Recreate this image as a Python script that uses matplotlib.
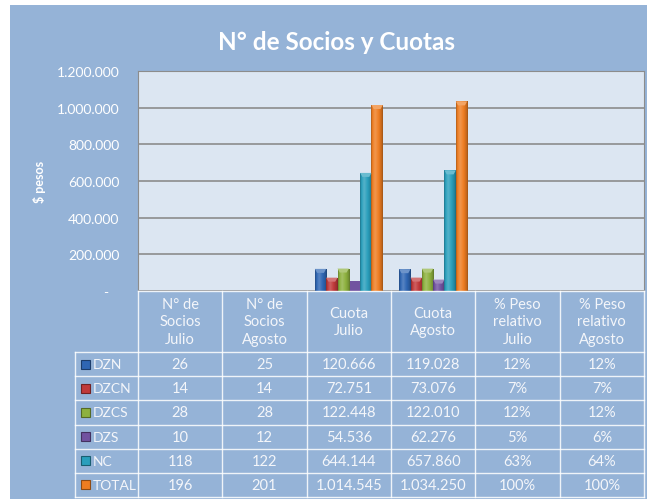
import numpy as np
import matplotlib
matplotlib.use('Agg')
import matplotlib.pyplot as plt
from matplotlib.patches import Rectangle, Polygon
from matplotlib.colors import to_rgb
from matplotlib.ticker import FuncFormatter

plt.rcParams['font.family'] = ['Lato', 'DejaVu Sans']

# datos
categorias = ['N° de\nSocios\nJulio', 'N° de\nSocios\nAgosto', 'Cuota\nJulio',
              'Cuota\nAgosto', '% Peso\nrelativo\nJulio', '% Peso\nrelativo\nAgosto']
series = ['DZN', 'DZCN', 'DZCS', 'DZS', 'NC', 'TOTAL']
dzn = [26, 25, 120666, 119028, 0.12, 0.12]
dzcn = [14, 14, 72751, 73076, 0.07, 0.07]
dzcs = [28, 28, 122448, 122010, 0.12, 0.12]
dzs = [10, 12, 54536, 62276, 0.05, 0.06]
nc = [118, 122, 644144, 657860, 0.63, 0.64]
total = [196, 201, 1014545, 1034250, 1.00, 1.00]
valores = [dzn, dzcn, dzcs, dzs, nc, total]
cores = ['#2f66b3', '#c0393a', '#8db13e', '#7152a0', '#2a9fbc', '#ee7d22']

W, H = 647, 502
fig = plt.figure(figsize=(W / 100, H / 100), dpi=100)

# fondo del grafico
fundo = fig.add_axes([0, 0, 1, 1], zorder=-1)
fundo.set_xlim(0, W)
fundo.set_ylim(H, 0)
fundo.axis('off')
fundo.add_patch(Rectangle((10, 6), W - 10, 494, color='#95b3d7', lw=0))


def tono(c, k):
    c = np.array(to_rgb(c))
    if k >= 1:
        return c + (1 - c) * (k - 1)
    return c * k


# area de trazado
ax = fig.add_axes([138 / W, 1 - 292 / H, (644 - 138) / W, (292 - 72) / H], zorder=1)
ax.set_facecolor('#dce6f2')
n = len(series)
larg = 0.806 / n
x = np.arange(len(categorias))
px = 1.2e6 / 220
perfil_t = np.linspace(0, 1, 64)
perfil_k = np.interp(perfil_t, [0, 0.12, 0.35, 0.65, 0.9, 1], [0.72, 1.0, 1.2, 1.0, 0.82, 0.66])

for j, (nome, vals, cor) in enumerate(zip(series, valores, cores)):
    xs = x + (j - (n - 1) / 2) * larg
    barras = ax.bar(xs, vals, larg, color=cor, zorder=2, linewidth=0)
    for b in barras:
        h = b.get_height()
        if h < 10 * px:
            continue
        x0 = b.get_x()
        grad = np.array([[tono(cor, k) for k in perfil_k]])
        grad = np.clip(grad, 0, 1)
        im = ax.imshow(grad, extent=[x0, x0 + larg, 0, h], aspect='auto',
                       zorder=3, interpolation='bilinear')
        im.set_clip_path(b)
        d = 4 * px
        ax.add_patch(Polygon([(x0, h), (x0 + larg, h), (x0 + larg * 0.8, h - d),
                              (x0 + larg * 0.2, h - d)],
                             facecolor=tono(cor, 1.3), lw=0, zorder=4))

ax.set_xlim(-0.5, 5.5)
ax.set_ylim(0, 1.2e6)
ax.set_xticks([])
ax.set_yticks(np.arange(0, 1.2e6 + 1, 2e5))
ax.yaxis.set_major_formatter(FuncFormatter(
    lambda v, p: '-   ' if v == 0 else f'{int(v):,}'.replace(',', '.')))
ax.tick_params(axis='y', length=0, pad=13.5, colors='white', labelsize=10)
ax.yaxis.grid(True, color='#8c8c8c', lw=1.2)
ax.set_axisbelow(True)
for lado in ['left', 'top', 'right']:
    ax.spines[lado].set_color('#8c8c8c')
ax.spines['bottom'].set_visible(False)

# tabla de datos y textos
tab = fig.add_axes([0, 0, 1, 1], zorder=2)
tab.set_xlim(0, W)
tab.set_ylim(H, 0)
tab.axis('off')

tab.text(337, 50, 'N° de Socios y Cuotas', ha='center', va='baseline',
         fontsize=17.5, fontweight='bold', color='white')
tab.text(40, 182, '$ pesos', rotation=90, ha='center', va='center',
         fontsize=9, fontweight='bold', color='white')

col_x = np.linspace(138, 644, 7)
fil_y = np.linspace(353, 498, 7)
lin = dict(color='white', lw=1.0, alpha=0.85)
tab.plot([138, 644], [292, 292], **lin)
for yy in fil_y:
    tab.plot([75, 644], [yy, yy], **lin)
tab.plot([75, 75], [353, 498], **lin)
for xx in col_x:
    tab.plot([xx, xx], [292, 498], **lin)

cor_txt = '#f4f6fa'
for i, cat in enumerate(categorias):
    xc = (col_x[i] + col_x[i + 1]) / 2
    tab.text(xc, 322.5, cat, ha='center', va='center', fontsize=10.5,
             color=cor_txt, linespacing=1.3)


def fmt(v, i):
    if i < 2:
        return str(int(v))
    if i < 4:
        return f'{v:,.0f}'.replace(',', '.')
    return f'{v:.0%}'


for j, (nome, vals, cor) in enumerate(zip(series, valores, cores)):
    yc = (fil_y[j] + fil_y[j + 1]) / 2
    tab.add_patch(Rectangle((81, yc - 4.5), 9, 9, facecolor=cor,
                            edgecolor=tono(cor, 0.6), lw=0.8))
    tab.text(93, yc, nome, ha='left', va='center', fontsize=10, color=cor_txt)
    for i, v in enumerate(vals):
        xc = (col_x[i] + col_x[i + 1]) / 2
        tab.text(xc, yc, fmt(v, i), ha='center', va='center', fontsize=10.5,
                 color=cor_txt)

fig.savefig('out.png', dpi=100)
